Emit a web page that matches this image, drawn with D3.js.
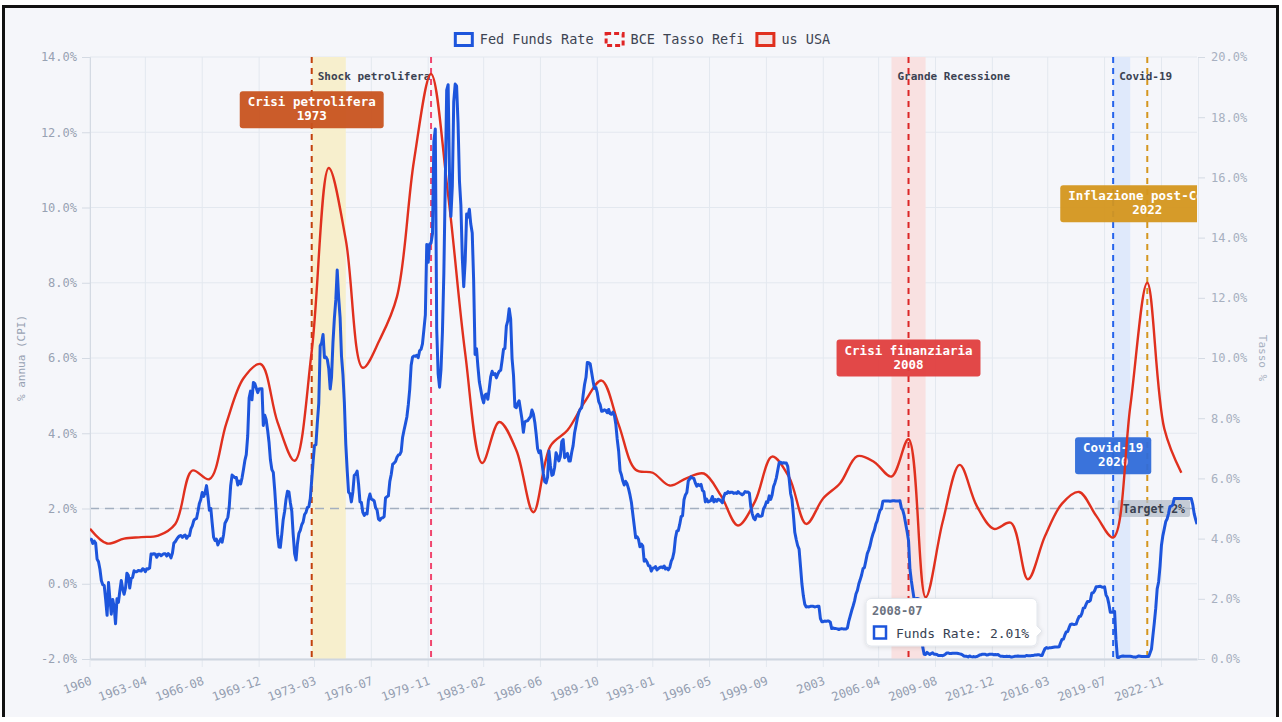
<!DOCTYPE html>
<html>
<head>
<meta charset="utf-8">
<script src="https://cdn.jsdelivr.net/npm/d3@7"></script>
<style>
  body { margin: 0; background: #fff; }
  svg { display: block; }
  .mono { font-family: "DejaVu Sans Mono", "Liberation Mono", monospace; }
</style>
</head>
<body>
<div id="chart"></div>
<script>
// x-axis tick labels (category style, every ~40 months)
var tickLabels = ["1960", "1963-04", "1966-08", "1969-12", "1973-03", "1976-07", "1979-11",
  "1983-02", "1986-06", "1989-10", "1993-01", "1996-05", "1999-09", "2003", "2006-04",
  "2009-08", "2012-12", "2016-03", "2019-07", "2022-11"];

var leftTicks = [-2, 0, 2, 4, 6, 8, 10, 12, 14];
var rightTicks = [0, 2, 4, 6, 8, 10, 12, 14, 16, 18, 20];

// US CPI, annual % (plotted in January of each year)
var cpiStart = 1960;
var cpiUSA = [1.46, 1.07, 1.20, 1.24, 1.28, 1.59, 3.01, 2.78, 4.27, 5.46,
  5.84, 4.29, 3.27, 6.18, 11.05, 9.14, 5.74, 6.50, 7.63, 11.25,
  13.55, 10.33, 6.13, 3.21, 4.30, 3.55, 1.90, 3.66, 4.08, 4.83,
  5.40, 4.23, 3.03, 2.95, 2.61, 2.81, 2.93, 2.34, 1.55, 2.19,
  3.38, 2.83, 1.59, 2.27, 2.68, 3.39, 3.23, 2.85, 3.84, -0.36,
  1.64, 3.16, 2.07, 1.46, 1.62, 0.12, 1.26, 2.13, 2.44, 1.81,
  1.23, 4.70, 8.00, 4.12, 2.95];

// ECB refi rate: in the legend, no points drawn
var bceRefi = [];

// Fed Funds effective rate, monthly from 1960-01
var fedStart = "1960-01";
var fedFunds = [
  3.99, 3.97, 3.84, 3.92, 3.85, 3.32, 3.23, 2.98, 2.60, 2.47, 2.44, 1.98, // 1960
  1.45, 2.54, 2.02, 1.49, 1.98, 1.73, 1.17, 2.00, 1.88, 2.26, 2.61, 2.33, // 1961
  2.15, 2.37, 2.85, 2.78, 2.36, 2.68, 2.71, 2.93, 2.90, 2.90, 2.94, 2.93, // 1962
  2.92, 3.00, 2.98, 2.90, 3.00, 2.99, 3.02, 3.49, 3.48, 3.50, 3.48, 3.38, // 1963
  3.48, 3.48, 3.43, 3.47, 3.50, 3.50, 3.42, 3.50, 3.45, 3.36, 3.52, 3.85, // 1964
  3.90, 3.98, 4.04, 4.09, 4.10, 4.04, 4.09, 4.12, 4.01, 4.08, 4.10, 4.32, // 1965
  4.42, 4.60, 4.65, 4.67, 4.90, 5.17, 5.30, 5.53, 5.40, 5.53, 5.76, 5.40, // 1966
  4.94, 5.00, 4.53, 4.05, 3.94, 3.98, 3.79, 3.90, 3.99, 3.88, 4.13, 4.51, // 1967
  4.60, 4.71, 5.05, 5.76, 6.11, 6.07, 6.02, 6.03, 5.78, 5.91, 5.82, 6.02, // 1968
  6.30, 6.61, 6.79, 7.41, 8.67, 8.90, 8.61, 9.19, 9.15, 9.00, 8.85, 8.97, // 1969
  8.98, 8.98, 7.76, 8.10, 7.95, 7.61, 7.21, 6.61, 6.29, 6.20, 5.60, 4.90, // 1970
  4.14, 3.72, 3.71, 4.15, 4.63, 4.91, 5.31, 5.57, 5.55, 5.20, 4.91, 4.14, // 1971
  3.50, 3.29, 3.83, 4.17, 4.27, 4.46, 4.55, 4.80, 4.87, 5.04, 5.06, 5.33, // 1972
  5.94, 6.58, 7.09, 7.12, 7.84, 8.49, 10.40, 10.50, 10.78, 10.01, 10.03, 9.95, // 1973
  9.65, 8.97, 9.35, 10.51, 11.31, 11.93, 12.92, 12.01, 11.34, 10.06, 9.45, 8.53, // 1974
  7.13, 6.24, 5.54, 5.49, 5.22, 5.55, 6.10, 6.14, 6.24, 5.82, 5.22, 5.20, // 1975
  4.87, 4.77, 4.84, 4.82, 5.29, 5.48, 5.31, 5.29, 5.25, 5.02, 4.95, 4.65, // 1976
  4.61, 4.68, 4.69, 4.73, 5.35, 5.39, 5.42, 5.90, 6.14, 6.47, 6.51, 6.56, // 1977
  6.70, 6.78, 6.79, 6.89, 7.36, 7.60, 7.81, 8.04, 8.45, 8.96, 9.76, 10.03, // 1978
  10.07, 10.06, 10.09, 10.01, 10.24, 10.29, 10.47, 10.94, 11.43, 13.77, 13.18, 13.78, // 1979
  13.82, 14.13, 17.19, 17.61, 10.98, 9.47, 9.03, 9.61, 10.87, 12.81, 15.85, 18.90, // 1980
  19.08, 15.93, 14.70, 15.72, 18.52, 19.10, 19.04, 17.82, 15.87, 15.08, 13.31, 12.37, // 1981
  13.22, 14.78, 14.68, 14.94, 14.45, 14.15, 12.59, 10.12, 10.31, 9.71, 9.20, 8.95, // 1982
  8.68, 8.51, 8.77, 8.80, 8.63, 8.98, 9.37, 9.56, 9.45, 9.48, 9.34, 9.47, // 1983
  9.56, 9.59, 9.91, 10.29, 10.32, 11.06, 11.23, 11.64, 11.30, 9.99, 9.43, 8.38, // 1984
  8.35, 8.50, 8.58, 8.27, 7.97, 7.53, 7.88, 7.90, 7.92, 7.99, 8.05, 8.27, // 1985
  8.14, 7.86, 7.48, 6.99, 6.85, 6.92, 6.56, 6.17, 5.89, 5.85, 6.04, 6.91, // 1986
  6.43, 6.10, 6.13, 6.37, 6.85, 6.73, 6.58, 6.73, 7.22, 7.29, 6.69, 6.77, // 1987
  6.83, 6.58, 6.58, 6.87, 7.09, 7.51, 7.75, 8.01, 8.19, 8.30, 8.35, 8.76, // 1988
  9.12, 9.36, 9.85, 9.84, 9.81, 9.53, 9.24, 8.99, 9.02, 8.84, 8.55, 8.45, // 1989
  8.23, 8.24, 8.28, 8.26, 8.18, 8.29, 8.15, 8.13, 8.20, 8.11, 7.81, 7.31, // 1990
  6.91, 6.25, 6.12, 5.91, 5.78, 5.90, 5.82, 5.66, 5.45, 5.21, 4.81, 4.43, // 1991
  4.03, 4.06, 3.98, 3.73, 3.82, 3.76, 3.25, 3.30, 3.22, 3.10, 3.09, 2.92, // 1992
  3.02, 3.03, 3.07, 2.96, 3.00, 3.04, 3.06, 3.03, 3.09, 2.99, 3.02, 2.96, // 1993
  3.05, 3.25, 3.34, 3.56, 4.01, 4.25, 4.26, 4.47, 4.73, 4.76, 5.29, 5.45, // 1994
  5.53, 5.92, 5.98, 6.05, 6.01, 6.00, 5.85, 5.74, 5.80, 5.76, 5.80, 5.60, // 1995
  5.56, 5.22, 5.31, 5.22, 5.24, 5.27, 5.40, 5.22, 5.30, 5.24, 5.31, 5.29, // 1996
  5.25, 5.19, 5.39, 5.51, 5.50, 5.56, 5.52, 5.54, 5.54, 5.50, 5.52, 5.50, // 1997
  5.56, 5.51, 5.49, 5.45, 5.49, 5.56, 5.54, 5.55, 5.51, 5.07, 4.83, 4.68, // 1998
  4.63, 4.76, 4.81, 4.74, 4.74, 4.76, 4.99, 5.07, 5.22, 5.20, 5.42, 5.30, // 1999
  5.45, 5.73, 5.85, 6.02, 6.27, 6.53, 6.54, 6.50, 6.52, 6.51, 6.51, 6.40, // 2000
  5.98, 5.49, 5.31, 4.80, 4.21, 3.97, 3.77, 3.65, 3.07, 2.49, 2.09, 1.82, // 2001
  1.73, 1.74, 1.73, 1.75, 1.75, 1.75, 1.73, 1.74, 1.75, 1.75, 1.34, 1.24, // 2002
  1.24, 1.26, 1.25, 1.26, 1.26, 1.22, 1.01, 1.03, 1.01, 1.01, 1.00, 0.98, // 2003
  1.00, 1.01, 1.00, 1.00, 1.00, 1.03, 1.26, 1.43, 1.61, 1.76, 1.93, 2.16, // 2004
  2.28, 2.50, 2.63, 2.79, 3.00, 3.04, 3.26, 3.50, 3.62, 3.78, 4.00, 4.16, // 2005
  4.29, 4.49, 4.59, 4.79, 4.94, 4.99, 5.24, 5.25, 5.25, 5.25, 5.25, 5.24, // 2006
  5.25, 5.26, 5.26, 5.25, 5.25, 5.25, 5.26, 5.02, 4.94, 4.76, 4.49, 4.24, // 2007
  3.94, 2.98, 2.61, 2.28, 1.98, 2.00, 2.01, 2.00, 1.81, 0.97, 0.39, 0.16, // 2008
  0.15, 0.22, 0.18, 0.15, 0.18, 0.21, 0.16, 0.16, 0.15, 0.12, 0.12, 0.12, // 2009
  0.11, 0.13, 0.16, 0.20, 0.20, 0.18, 0.18, 0.19, 0.19, 0.19, 0.19, 0.18, // 2010
  0.17, 0.16, 0.14, 0.10, 0.09, 0.09, 0.07, 0.10, 0.08, 0.07, 0.08, 0.07, // 2011
  0.08, 0.10, 0.13, 0.14, 0.16, 0.16, 0.16, 0.13, 0.14, 0.16, 0.16, 0.16, // 2012
  0.14, 0.15, 0.14, 0.15, 0.11, 0.09, 0.09, 0.08, 0.08, 0.09, 0.08, 0.09, // 2013
  0.07, 0.07, 0.08, 0.09, 0.09, 0.10, 0.09, 0.09, 0.09, 0.09, 0.09, 0.12, // 2014
  0.11, 0.11, 0.11, 0.12, 0.12, 0.13, 0.13, 0.14, 0.14, 0.12, 0.12, 0.24, // 2015
  0.34, 0.38, 0.36, 0.37, 0.37, 0.38, 0.39, 0.40, 0.40, 0.40, 0.41, 0.54, // 2016
  0.65, 0.66, 0.79, 0.90, 0.91, 1.04, 1.15, 1.16, 1.15, 1.15, 1.16, 1.30, // 2017
  1.41, 1.42, 1.51, 1.69, 1.70, 1.82, 1.91, 1.91, 1.95, 2.19, 2.20, 2.27, // 2018
  2.40, 2.40, 2.41, 2.42, 2.39, 2.38, 2.40, 2.13, 2.04, 1.83, 1.55, 1.55, // 2019
  1.55, 1.58, 0.65, 0.05, 0.05, 0.08, 0.09, 0.10, 0.09, 0.09, 0.09, 0.09, // 2020
  0.09, 0.08, 0.07, 0.07, 0.06, 0.08, 0.10, 0.09, 0.08, 0.08, 0.08, 0.08, // 2021
  0.08, 0.08, 0.20, 0.33, 0.77, 1.21, 1.68, 2.33, 2.56, 3.08, 3.78, 4.10, // 2022
  4.33, 4.57, 4.65, 4.83, 5.06, 5.08, 5.12, 5.33, 5.33, 5.33, 5.33, 5.33, // 2023
  5.33, 5.33, 5.33, 5.33, 5.33, 5.33, 5.33, 5.33, 5.13, 4.83, 4.64, 4.48  // 2024
];

// event markers
var eventLineDates = ["1973-01", "1980-01", "2008-01", "2020-01", "2022-01"];
var eventBands = [
  { from: "1973-01", to: "1975-01", label: "Shock petrolifera" },
  { from: "2007-01", to: "2009-01", label: "Grande Recessione" },
  { from: "2020-01", to: "2021-01", label: "Covid-19" }
];
var eventBoxes = [
  { date: "1973-01", title: "Crisi petrolifera", year: "1973", level: 12.6 },
  { date: "2008-01", title: "Crisi finanziaria", year: "2008", level: 6.0 },
  { date: "2020-01", title: "Covid-19", year: "2020", level: 3.4 },
  { date: "2022-01", title: "Inflazione post-Covid", year: "2022", level: 10.1 }
];
var targetLevel = 2;
var tooltipMonth = "2008-07";

var lineColors = ["#c2410c", "#f0466e", "#dc2626", "#2563eb", "#d4961e"];
var bandColors = ["#f7efcd", "#f9e1e1", "#dfe9fb"];
var boxColors = ["#c8531f", "#e03e3e", "#2f6bd9", "#d4961e"];

var blue = "#1d55dc", red = "#e0301e";

var W = 1282, H = 722;
var plot = { left: 90, right: 1197, top: 57, bottom: 659 };
var parseMonth = d3.timeParse("%Y-%m");
var parseTick = function (s) { return s.length == 4 ? d3.timeParse("%Y")(s) : parseMonth(s); };

var svg = d3.select("#chart").append("svg")
  .attr("width", W).attr("height", H);

// page frame
svg.append("rect").attr("x", 3).attr("y", 6).attr("width", 1274).attr("height", 711)
  .attr("fill", "#f5f6fa");
svg.append("path").attr("d", "M3.5,717V6.5H1277.5V717")
  .attr("fill", "none").attr("stroke", "#111").attr("stroke-width", 3);

var fedData = fedFunds.map(function (v, i) {
  return { date: d3.timeMonth.offset(parseMonth(fedStart), i), value: v };
});
var cpiData = cpiUSA.map(function (v, i) {
  return { date: new Date(cpiStart + i, 0, 1), value: v };
});

var x = d3.scaleTime()
  .domain([fedData[0].date, fedData[fedData.length - 1].date])
  .range([plot.left, plot.right]);
var yLeft = d3.scaleLinear().domain([-2, 14]).range([plot.bottom, plot.top]);
var yRight = d3.scaleLinear().domain([0, 20]).range([plot.bottom, plot.top]);

svg.append("clipPath").attr("id", "clip").append("rect")
  .attr("x", plot.left).attr("y", plot.top)
  .attr("width", plot.right - plot.left).attr("height", plot.bottom - plot.top);

var tickDates = tickLabels.map(parseTick);

// grid
var grid = svg.append("g");
grid.selectAll(".hg").data(leftTicks).enter().append("line")
  .attr("x1", plot.left).attr("x2", plot.right)
  .attr("y1", function (d) { return yLeft(d); }).attr("y2", function (d) { return yLeft(d); })
  .attr("stroke", "#e3e8ef").attr("stroke-width", 1);
grid.selectAll(".vg").data(tickDates).enter().append("line")
  .attr("x1", function (d) { return x(d); }).attr("x2", function (d) { return x(d); })
  .attr("y1", plot.top).attr("y2", plot.bottom + 8)
  .attr("stroke", "#e3e8ef").attr("stroke-width", 1);

// annotation layer
var ann = svg.append("g").attr("clip-path", "url(#clip)");

ann.selectAll(".band").data(eventBands).enter().append("rect")
  .attr("x", function (d) { return x(parseMonth(d.from)); })
  .attr("width", function (d) { return x(parseMonth(d.to)) - x(parseMonth(d.from)); })
  .attr("y", plot.top).attr("height", plot.bottom - plot.top)
  .attr("fill", function (d, i) { return bandColors[i]; });

// target line
ann.append("line")
  .attr("x1", plot.left).attr("x2", plot.right)
  .attr("y1", yLeft(targetLevel)).attr("y2", yLeft(targetLevel))
  .attr("stroke", "#a3afc0").attr("stroke-width", 1.5).attr("stroke-dasharray", "9,6");

ann.selectAll(".evline").data(eventLineDates).enter().append("line")
  .attr("x1", function (d) { return x(parseMonth(d)); })
  .attr("x2", function (d) { return x(parseMonth(d)); })
  .attr("y1", plot.top).attr("y2", plot.bottom)
  .attr("stroke", function (d, i) { return lineColors[i]; })
  .attr("stroke-width", 2).attr("stroke-dasharray", "6,5");

ann.selectAll(".bandlabel").data(eventBands).enter().append("text")
  .attr("class", "mono")
  .attr("x", function (d) { return x(parseMonth(d.from)) + 6; })
  .attr("y", 80)
  .attr("font-size", 11).attr("font-weight", "bold").attr("fill", "#3b4252")
  .text(function (d) { return d.label; });

// label boxes
var boxes = ann.selectAll(".evbox").data(eventBoxes).enter().append("g")
  .attr("transform", function (d) {
    return "translate(" + x(parseMonth(d.date)) + "," + yLeft(d.level) + ")";
  });
var boxRects = boxes.append("rect").attr("rx", 3)
  .attr("fill", function (d, i) { return boxColors[i]; }).attr("opacity", 0.95);
boxes.append("text").attr("class", "mono")
  .attr("text-anchor", "middle").attr("y", -3.5)
  .attr("font-size", 12.5).attr("font-weight", "bold").attr("fill", "#fff")
  .text(function (d) { return d.title; });
boxes.append("text").attr("class", "mono")
  .attr("text-anchor", "middle").attr("y", 10.5)
  .attr("font-size", 12.5).attr("font-weight", "bold").attr("fill", "#fff")
  .text(function (d) { return d.year; });
boxRects.each(function () {
  var g = d3.select(this.parentNode);
  var w = g.select("text").node().getComputedTextLength() + 16;
  d3.select(this).attr("x", -w / 2).attr("y", -18.5).attr("width", w).attr("height", 37);
});

// target label
var tg = ann.append("g");
var tText = tg.append("text").attr("class", "mono")
  .attr("text-anchor", "end").attr("x", plot.right - 12).attr("y", yLeft(targetLevel) + 4)
  .attr("font-size", 11.5).attr("font-weight", "bold").attr("fill", "#394150")
  .text("Target " + targetLevel + "%");
var tw = tText.node().getComputedTextLength();
tg.insert("rect", "text")
  .attr("x", plot.right - 12 - tw - 5).attr("y", yLeft(targetLevel) - 8.5)
  .attr("width", tw + 10).attr("height", 17).attr("rx", 2)
  .attr("fill", "#b4bdc9").attr("opacity", 0.75);

// axes
var xAxis = d3.axisBottom(x).tickValues(tickDates).tickSize(0)
  .tickFormat(function (d, i) { return tickLabels[i]; });
var gx = svg.append("g").attr("transform", "translate(0," + plot.bottom + ")").call(xAxis);
gx.select(".domain").attr("stroke", "#cfd6e0").attr("stroke-width", 2);
gx.selectAll("text").attr("class", "mono")
  .attr("font-size", 12).attr("fill", "#939db0")
  .attr("text-anchor", "end")
  .attr("y", 0).attr("dy", 0)
  .attr("transform", "translate(2,25) rotate(-20)");

var yAxisL = d3.axisLeft(yLeft).tickValues(leftTicks).tickSize(8).tickPadding(5)
  .tickFormat(function (d) { return d.toFixed(1) + "%"; });
var gyl = svg.append("g").attr("transform", "translate(" + plot.left + ",0)").call(yAxisL);
gyl.select(".domain").attr("stroke", "#d4dae3");
gyl.selectAll(".tick line").attr("stroke", "#d4dae3");
gyl.selectAll("text").attr("class", "mono").attr("font-size", 12).attr("fill", "#98a2b3");

var yAxisR = d3.axisRight(yRight).tickValues(rightTicks).tickSize(7).tickPadding(6)
  .tickFormat(function (d) { return d.toFixed(1) + "%"; });
var gyr = svg.append("g").attr("transform", "translate(" + (plot.right + 1) + ",0)").call(yAxisR);
gyr.select(".domain").attr("stroke", "#e3e8ef");
gyr.selectAll(".tick line").attr("stroke", "#d4dae3");
gyr.selectAll("text").attr("class", "mono").attr("font-size", 12).attr("fill", "#a7b0c0");

svg.append("text").attr("class", "mono")
  .attr("transform", "translate(25," + ((plot.top + plot.bottom) / 2) + ") rotate(-90)")
  .attr("text-anchor", "middle").attr("font-size", 11).attr("fill", "#98a2b3")
  .text("% annua (CPI)");
svg.append("text").attr("class", "mono")
  .attr("transform", "translate(1259," + ((plot.top + plot.bottom) / 2) + ") rotate(90)")
  .attr("text-anchor", "middle").attr("font-size", 11).attr("fill", "#a7b0c0")
  .text("Tasso %");

// series
var series = svg.append("g").attr("clip-path", "url(#clip)");
var cpiLine = d3.line()
  .x(function (d) { return x(d.date); })
  .y(function (d) { return yLeft(d.value); })
  .curve(d3.curveCatmullRom.alpha(0.5));
series.append("path").datum(cpiData)
  .attr("d", cpiLine).attr("fill", "none")
  .attr("stroke", red).attr("stroke-width", 2.4);

var fedLine = d3.line()
  .x(function (d) { return x(d.date); })
  .y(function (d) { return yRight(d.value); });
series.append("path").datum(fedData)
  .attr("d", fedLine).attr("fill", "none")
  .attr("stroke", blue).attr("stroke-width", 3).attr("stroke-linejoin", "round");

// legend
var legendItems = [
  { name: "Fed Funds Rate", stroke: blue, fill: "#f5f6fa", dash: null },
  { name: "BCE Tasso Refi", stroke: "#e02424", fill: "#f5f6fa", dash: "5,3" },
  { name: "us USA", stroke: red, fill: "#f3e4e4", dash: null }
];
var legend = svg.append("g");
var lx = 0;
legendItems.forEach(function (d) {
  var item = legend.append("g").attr("transform", "translate(" + lx + ",0)");
  item.append("rect").attr("x", 1.5).attr("y", 1.5).attr("width", 17).attr("height", 12)
    .attr("fill", d.fill).attr("stroke", d.stroke).attr("stroke-width", 3)
    .attr("stroke-dasharray", d.dash);
  var t = item.append("text").attr("class", "mono")
    .attr("x", 26).attr("y", 12).attr("font-size", 13.5).attr("fill", "#3d4452")
    .text(d.name);
  lx += 26 + t.node().getComputedTextLength() + 11;
});
legend.attr("transform", "translate(" + (642 - (lx - 11) / 2) + ",32)");

// tooltip (static, at 2008-07)
var tipPoint = fedData.find(function (d) { return d3.timeFormat("%Y-%m")(d.date) == tooltipMonth; });
var defs = svg.append("defs");
var f = defs.append("filter").attr("id", "shadow").attr("x", "-20%").attr("y", "-30%")
  .attr("width", "140%").attr("height", "160%");
f.append("feDropShadow").attr("dx", 0).attr("dy", 1).attr("stdDeviation", 2)
  .attr("flood-color", "#000").attr("flood-opacity", 0.12);
var tip = svg.append("g").attr("transform", "translate(866,598)");
tip.append("path")
  .attr("d", "M5,0.5H166a5,5 0 0 1 5,5V28l5,5l-5,5V43a5,5 0 0 1 -5,5H5a5,5 0 0 1 -5,-5V5.5a5,5 0 0 1 5,-5Z")
  .attr("fill", "#fff").attr("stroke", "#e2e6ec").attr("filter", "url(#shadow)");
tip.append("text").attr("class", "mono").attr("x", 6).attr("y", 17)
  .attr("font-size", 12).attr("font-weight", "bold").attr("fill", "#6b7280")
  .text(tooltipMonth);
tip.append("rect").attr("x", 8).attr("y", 28.5).attr("width", 12).attr("height", 12)
  .attr("fill", "#fff").attr("stroke", blue).attr("stroke-width", 2.5);
tip.append("text").attr("class", "mono").attr("x", 30).attr("y", 40)
  .attr("font-size", 13).attr("fill", "#374151")
  .text("Funds Rate: " + tipPoint.value.toFixed(2) + "%");
</script>
</body>
</html>
